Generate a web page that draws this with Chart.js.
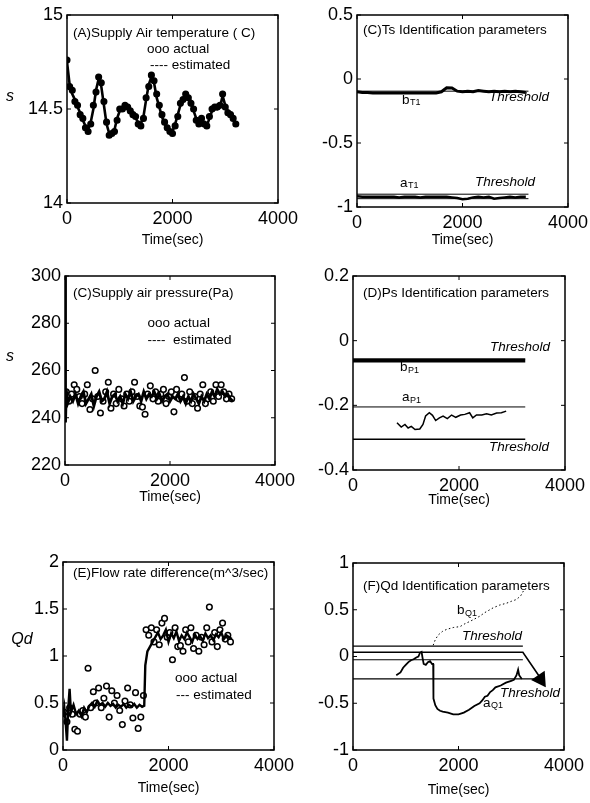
<!DOCTYPE html>
<html>
<head>
<meta charset="utf-8">
<title>Supply air identification</title>
<script src="https://cdn.jsdelivr.net/npm/chart.js"></script>
<style>
  html, body { margin: 0; padding: 0; background: #fff; }
  body { width: 590px; height: 803px; position: relative; overflow: hidden; }
  canvas { position: absolute; }
</style>
</head>
<body>
<canvas id="chartA"></canvas>
<canvas id="chartTs"></canvas>
<canvas id="chartP"></canvas>
<canvas id="chartD"></canvas>
<canvas id="chartE"></canvas>
<canvas id="chartF"></canvas>
<script>
// ---- ticks ----
const xTicks = [0, 2000, 4000];
const yTicksA = [14, 14.5, 15];
const yTicksTs = [-1, -0.5, 0, 0.5];
const yTicksP = [220, 240, 260, 280, 300];
const yTicksD = [-0.4, -0.2, 0, 0.2];
const yTicksE = [0, 0.5, 1, 1.5, 2];
const yTicksF = [-1, -0.5, 0, 0.5, 1];

// ---- (A) supply air temperature ----
const tA = [0, 50, 100, 150, 200, 250, 300, 350, 400, 450, 500, 550, 600, 650, 700, 750, 800, 850, 900, 950,
  1000, 1050, 1100, 1150, 1200, 1250, 1300, 1350, 1400, 1450, 1500, 1550, 1600, 1650, 1700, 1750, 1800, 1850, 1900, 1950,
  2000, 2050, 2100, 2150, 2200, 2250, 2300, 2350, 2400, 2450, 2500, 2550, 2600, 2650, 2700, 2750, 2800, 2850, 2900, 2950,
  3000, 3050, 3100, 3150, 3200];
const estA = [14.75, 14.63, 14.58, 14.55, 14.51, 14.48, 14.44, 14.41, 14.39, 14.43, 14.50, 14.60, 14.66, 14.62, 14.52, 14.42, 14.37, 14.37, 14.39, 14.45,
  14.49, 14.51, 14.50, 14.51, 14.50, 14.48, 14.45, 14.43, 14.42, 14.46, 14.55, 14.63, 14.67, 14.64, 14.56, 14.51, 14.46, 14.42, 14.40, 14.39,
  14.38, 14.42, 14.47, 14.52, 14.55, 14.57, 14.57, 14.54, 14.49, 14.45, 14.43, 14.44, 14.43, 14.41, 14.45, 14.49, 14.50, 14.50, 14.51, 14.57,
  14.52, 14.49, 14.47, 14.46, 14.42];
const actA = [14.76, 14.62, 14.60, 14.54, 14.52, 14.47, 14.45, 14.40, 14.38, 14.42, 14.52, 14.59, 14.67, 14.64, 14.54, 14.43, 14.36, 14.37, 14.38, 14.44,
  14.50, 14.50, 14.52, 14.51, 14.49, 14.47, 14.46, 14.42, 14.41, 14.45, 14.56, 14.62, 14.68, 14.65, 14.58, 14.52, 14.47, 14.43, 14.40, 14.38,
  14.37, 14.41, 14.46, 14.53, 14.55, 14.58, 14.56, 14.53, 14.50, 14.44, 14.42, 14.45, 14.42, 14.41, 14.46, 14.50, 14.51, 14.51, 14.52, 14.58,
  14.51, 14.48, 14.47, 14.45, 14.42];

// ---- (C) Ts identification parameters ----
const tTs = [0, 100, 200, 300, 400, 500, 600, 700, 800, 900, 1000, 1100, 1200, 1300, 1400, 1500, 1600, 1700, 1800, 1900,
  2000, 2100, 2200, 2300, 2400, 2500, 2600, 2700, 2800, 2900, 3000, 3100, 3200];
const bT1 = [-0.10, -0.105, -0.105, -0.11, -0.11, -0.11, -0.11, -0.11, -0.11, -0.11, -0.11, -0.11, -0.11, -0.11, -0.11, -0.11, -0.10, -0.068, -0.07, -0.095,
  -0.10, -0.095, -0.10, -0.09, -0.095, -0.10, -0.095, -0.10, -0.095, -0.10, -0.095, -0.10, -0.105];
const aT1 = [-0.915, -0.92, -0.92, -0.92, -0.92, -0.92, -0.92, -0.92, -0.925, -0.92, -0.92, -0.92, -0.925, -0.92, -0.92, -0.92, -0.92, -0.92, -0.925, -0.93,
  -0.94, -0.935, -0.925, -0.92, -0.925, -0.92, -0.935, -0.93, -0.925, -0.92, -0.925, -0.92, -0.92];
const tThr = [0, 3250];
const thrTb = [-0.095, -0.095];
const thrTaUp = [-0.90, -0.90];
const thrTaLow = [-0.935, -0.935];

// ---- (C) supply air pressure ----
const tP = [0, 10, 25, 50, 100, 150, 200, 250, 300, 350, 400, 450, 500, 550, 600, 650, 700, 750, 800, 850, 900, 950,
  1000, 1050, 1100, 1150, 1200, 1250, 1300, 1350, 1400, 1450, 1500, 1550, 1600, 1650, 1700, 1750, 1800, 1850, 1900, 1950,
  2000, 2050, 2100, 2150, 2200, 2250, 2300, 2350, 2400, 2450, 2500, 2550, 2600, 2650, 2700, 2750, 2800, 2850, 2900, 2950,
  3000, 3050, 3100, 3150, 3200];
const estP = [300, 238, 252, 246, 249, 247, 250, 246, 249, 251, 246, 248, 250, 245, 249, 251, 247, 248, 251, 246, 249, 250,
  247, 249, 246, 250, 248, 251, 247, 249, 250, 247, 251, 248, 250, 249, 251, 248, 250, 247, 249, 250,
  247, 249, 248, 250, 247, 249, 246, 249, 247, 250, 248, 246, 249, 247, 250, 248, 251, 249, 252, 250,
  251, 249, 250, 248, 247];
const tPa = [25, 75, 125, 175, 225, 275, 325, 375, 425, 475, 525, 575, 625, 675, 725, 775, 825, 875, 925, 975,
  1025, 1075, 1125, 1175, 1225, 1275, 1325, 1375, 1425, 1475, 1525, 1575, 1625, 1675, 1725, 1775, 1825, 1875, 1925, 1975,
  2025, 2075, 2125, 2175, 2225, 2275, 2325, 2375, 2425, 2475, 2525, 2575, 2625, 2675, 2725, 2775, 2825, 2875, 2925, 2975,
  3025, 3075, 3125, 3175];
const actP = [251, 247, 250, 254, 252, 249, 246, 250, 254, 243.5, 248, 260, 249, 242, 247, 251, 255, 244, 250, 246,
  252, 248, 245, 250, 247, 251, 255, 249, 245, 244.5, 241.5, 250, 253.5, 248, 251, 247, 250, 252, 246, 249,
  251, 242.5, 252, 248, 250, 257, 247, 251, 246, 249, 244, 250, 254, 246, 248, 251, 247, 254, 249, 254,
  251, 248, 250, 248];

// ---- (D) Ps identification parameters ----
const thrDUp = [-0.056, -0.056];
const bP1 = [-0.062, -0.062];
const thrDMid = [-0.205, -0.205];
const thrDLow = [-0.305, -0.305];
const tDa = [830, 910, 980, 1040, 1100, 1170, 1260, 1320, 1370, 1440, 1500, 1560, 1630, 1700, 1780, 1860, 1940, 2030,
  2110, 2200, 2260, 2330, 2430, 2520, 2610, 2710, 2800, 2890];
const aP1 = [-0.254, -0.267, -0.259, -0.27, -0.265, -0.275, -0.273, -0.259, -0.233, -0.223, -0.231, -0.247, -0.239, -0.233,
  -0.241, -0.23, -0.237, -0.23, -0.228, -0.223, -0.239, -0.23, -0.23, -0.226, -0.23, -0.224, -0.223, -0.218];

// ---- (E) flow rate difference ----
const tQ = [0, 25, 50, 75, 100, 125, 150, 200, 250, 300, 350, 400, 450, 500, 550, 600, 650, 700, 750, 800, 850, 900, 950,
  1000, 1050, 1100, 1150, 1200, 1250, 1300, 1350, 1400, 1450, 1500, 1540, 1560, 1600, 1650, 1700, 1750, 1800, 1850, 1900, 1950,
  2000, 2050, 2100, 2150, 2200, 2250, 2300, 2350, 2400, 2450, 2500, 2550, 2600, 2650, 2700, 2750, 2800, 2850, 2900, 2950,
  3000, 3050, 3100, 3150, 3200];
const estQ = [0.35, 0.45, 0.3, 0.1, 0.45, 0.65, 0.4, 0.48, 0.38, 0.42, 0.36, 0.45, 0.4, 0.47, 0.5, 0.46, 0.52, 0.48, 0.5, 0.46, 0.5, 0.47, 0.49,
  0.45, 0.48, 0.46, 0.49, 0.45, 0.48, 0.46, 0.49, 0.45, 0.48, 0.46, 0.47, 0.9, 1.05, 1.1, 1.15, 1.2, 1.25, 1.18, 1.22, 1.28,
  1.15, 1.24, 1.19, 1.26, 1.16, 1.22, 1.18, 1.25, 1.2, 1.15, 1.23, 1.18, 1.21, 1.16, 1.24, 1.19, 1.22, 1.17, 1.23, 1.2,
  1.25, 1.18, 1.22, 1.2, 1.18];
const tQa = tPa;
const actQ = [0.4, 0.3, 0.45, 0.38, 0.22, 0.2, 0.38, 0.42, 0.35, 0.87, 0.45, 0.62, 0.5, 0.66, 0.45, 0.55, 0.68, 0.35, 0.63, 0.5,
  0.58, 0.42, 0.27, 0.52, 0.66, 0.48, 0.34, 0.61, 0.23, 0.35, 0.58, 1.28, 1.22, 1.3, 1.15, 1.28, 1.12, 1.35, 1.4, 1.2,
  1.25, 0.96, 1.3, 1.1, 1.11, 1.05, 1.28, 1.15, 1.3, 1.08, 1.22, 1.05, 1.2, 1.12, 1.3, 1.52, 1.15, 1.25, 1.1, 1.28,
  1.35, 1.18, 1.22, 1.15];

// ---- (F) Qd identification parameters ----
const tF1 = [0, 3220];
const thrF1 = [0.11, 0.11];
const tF2 = [0, 3220, 3540];
const lineF2 = [0.045, 0.045, -0.22];
const lineF3 = [-0.035, -0.035];
const tF4 = [0, 3560];
const thrF4 = [-0.24, -0.24];
const tArrow = [3555];
const arrowF = [-0.245];
const tFa = [820, 900, 950, 1000, 1050, 1100, 1150, 1200, 1240, 1270, 1300, 1320, 1340, 1380, 1420, 1460, 1500, 1520, 1525,
  1560, 1600, 1650, 1700, 1800, 1900, 2000, 2100, 2200, 2300, 2400, 2450, 2500, 2550, 2600, 2650, 2700, 2800, 2900,
  3000, 3050, 3100, 3130, 3150, 3200];
const aQ1 = [-0.2, -0.17, -0.12, -0.09, -0.06, -0.04, -0.03, -0.01, 0.0, 0.04, 0.05, -0.02, -0.08, -0.09, -0.06, -0.05, -0.08, -0.08, -0.45,
  -0.52, -0.56, -0.58, -0.59, -0.6, -0.62, -0.62, -0.6, -0.57, -0.53, -0.5, -0.47, -0.43, -0.42, -0.38, -0.36, -0.33, -0.31, -0.28,
  -0.26, -0.25, -0.2, -0.14, -0.2, -0.24];
const tFb = [1520, 1560, 1615, 1700, 1775, 1900, 2030, 2120, 2215, 2300, 2400, 2500, 2655, 2780, 2910, 3000, 3100, 3180, 3230];
const bQ1 = [0.12, 0.18, 0.23, 0.27, 0.29, 0.31, 0.32, 0.35, 0.375, 0.4, 0.43, 0.47, 0.52, 0.55, 0.57, 0.59, 0.61, 0.65, 0.7];

// ---- drawing ----
const FONT = '"Liberation Sans", Arial, sans-serif';
const AXIS_W = 64;   // y axis strip
const AXIS_H = 50;   // x axis strip
const PAD_T = 15, PAD_R = 26, PAD_B = 7;

function pts(xs, ys) { return xs.map((x, i) => ({ x: x, y: ys[i] })); }

function line(xs, ys, w, dash) {
  return { data: pts(xs, ys), showLine: true, borderColor: '#000', borderWidth: w,
    borderDash: dash || [], pointRadius: 0, fill: false, tension: 0 };
}

function dots(xs, ys, r, fill) {
  return { data: pts(xs, ys), showLine: false, pointRadius: r, pointBackgroundColor: fill,
    pointBorderColor: '#000', pointBorderWidth: 1.5 };
}

// texts, box and inward tick marks
function deco(notes, yLabel) {
  return {
    id: 'deco',
    afterDatasetsDraw(chart) {
      const { ctx, chartArea: a } = chart;
      const xs = chart.scales.x, ys = chart.scales.y;
      ctx.save();
      ctx.fillStyle = '#000';
      ctx.textBaseline = 'middle';
      ctx.textAlign = 'left';
      notes.forEach(n => {
        const px = xs.getPixelForValue(n.x), py = ys.getPixelForValue(n.y);
        ctx.font = (n.italic ? 'italic ' : '') + '13.5px ' + FONT;
        ctx.fillText(n.text, px, py);
        if (n.sub) {
          const w = ctx.measureText(n.text).width;
          ctx.font = '9px ' + FONT;
          ctx.fillText(n.sub, px + w + 0.5, py + 3);
        }
      });
      if (yLabel) {
        ctx.font = 'italic 16px ' + FONT;
        ctx.textAlign = 'center';
        ctx.fillText(yLabel.text, a.left - yLabel.dx, (a.top + a.bottom) / 2 + yLabel.dy);
      }
      ctx.strokeStyle = '#000';
      ctx.lineWidth = 1.5;
      ctx.strokeRect(a.left, a.top, a.right - a.left, a.bottom - a.top);
      ctx.lineWidth = 1;
      ctx.beginPath();
      xs.ticks.forEach(t => {
        const p = xs.getPixelForValue(t.value);
        ctx.moveTo(p, a.bottom); ctx.lineTo(p, a.bottom - 4);
        ctx.moveTo(p, a.top); ctx.lineTo(p, a.top + 4);
      });
      ys.ticks.forEach(t => {
        const p = ys.getPixelForValue(t.value);
        ctx.moveTo(a.left, p); ctx.lineTo(a.left + 4, p);
        ctx.moveTo(a.right, p); ctx.lineTo(a.right - 4, p);
      });
      ctx.stroke();
      ctx.restore();
    }
  };
}

function makePanel(id, box, yTicks, datasets, notes, yLabel, titleGap) {
  const canvas = document.getElementById(id);
  canvas.width = box.r - box.l + AXIS_W + PAD_R;
  canvas.height = box.b - box.t + PAD_T + AXIS_H + PAD_B;
  canvas.style.left = (box.l - AXIS_W) + 'px';
  canvas.style.top = (box.t - PAD_T) + 'px';
  new Chart(canvas, {
    type: 'scatter',
    data: { datasets: datasets },
    options: {
      responsive: false,
      animation: false,
      layout: { padding: { left: 0, top: PAD_T, right: PAD_R, bottom: PAD_B } },
      plugins: { legend: { display: false }, tooltip: { enabled: false } },
      scales: {
        x: {
          type: 'linear', min: 0, max: 4000,
          afterBuildTicks: s => { s.ticks = xTicks.map(v => ({ value: v })); },
          afterFit: s => { s.height = AXIS_H; },
          grid: { display: false, drawTicks: false },
          border: { display: false },
          ticks: { color: '#000', font: { family: FONT, size: 18 }, padding: 5, maxRotation: 0, autoSkip: false,
            callback: v => String(v) },
          title: { display: true, text: 'Time(sec)', color: '#000', font: { family: FONT, size: 14 },
            padding: { top: 0, bottom: AXIS_H - titleGap - 8.4 } }
        },
        y: {
          type: 'linear', min: yTicks[0], max: yTicks[yTicks.length - 1],
          afterBuildTicks: s => { s.ticks = yTicks.map(v => ({ value: v })); },
          afterFit: s => { s.width = AXIS_W; },
          grid: { display: false, drawTicks: false },
          border: { display: false },
          ticks: { color: '#000', font: { family: FONT, size: 18 }, padding: 4, autoSkip: false,
            callback: v => String(v) }
        }
      }
    },
    plugins: [deco(notes, yLabel)]
  });
}

makePanel('chartA', { l: 67, t: 15, r: 278, b: 203 }, yTicksA, [
  line(tA, estA, 2.6),
  dots(tA, actA, 2.8, '#000')
], [
  { x: 114, y: 14.904, text: '(A)Supply Air temperature ( C)' },
  { x: 1517, y: 14.82, text: 'ooo actual' },
  { x: 1573, y: 14.734, text: '---- estimated' }
], { text: 's', dx: 57, dy: -12 }, 37);

makePanel('chartTs', { l: 357, t: 15, r: 568, b: 207 }, yTicksTs, [
  line(tThr, thrTb, 1),
  line(tTs, bT1, 3),
  line(tThr, thrTaUp, 1),
  line(tTs, aT1, 2.5),
  line(tThr, thrTaLow, 1)
], [
  { x: 114, y: 0.383, text: '(C)Ts Identification parameters' },
  { x: 853, y: -0.164, text: 'b', sub: 'T1' },
  { x: 2502, y: -0.14, text: 'Threshold', italic: true },
  { x: 815, y: -0.8125, text: 'a', sub: 'T1' },
  { x: 2237, y: -0.805, text: 'Threshold', italic: true }
], null, 33);

makePanel('chartP', { l: 65, t: 276, r: 275, b: 465 }, yTicksP, [
  line(tP, estP, 2.8),
  dots(tPa, actP, 2.8, '#fff')
], [
  { x: 152, y: 292.8, text: '(C)Supply air pressure(Pa)' },
  { x: 1573, y: 280.1, text: 'ooo actual' },
  { x: 1573, y: 272.9, text: '----  estimated' }
], { text: 's', dx: 55, dy: -13.5 }, 32);

makePanel('chartD', { l: 353, t: 276, r: 565, b: 470 }, yTicksD, [
  line(tThr, thrDUp, 1),
  line(tThr, bP1, 3.5),
  line(tThr, thrDMid, 1),
  line(tThr, thrDLow, 1.5),
  line(tDa, aP1, 1.5)
], [
  { x: 189, y: 0.147, text: '(D)Ps Identification parameters' },
  { x: 2585, y: -0.02, text: 'Threshold', italic: true },
  { x: 887, y: -0.082, text: 'b', sub: 'P1' },
  { x: 925, y: -0.175, text: 'a', sub: 'P1' },
  { x: 2566, y: -0.329, text: 'Threshold', italic: true }
], null, 30);

makePanel('chartE', { l: 63, t: 562, r: 274, b: 750 }, yTicksE, [
  line(tQ, estQ, 2.4),
  dots(tQa, actQ, 2.8, '#fff')
], [
  { x: 190, y: 1.883, text: '(E)Flow rate difference(m^3/sec)' },
  { x: 2123, y: 0.766, text: 'ooo actual' },
  { x: 2142, y: 0.585, text: '--- estimated' }
], { text: 'Qd', dx: 41, dy: -16 }, 38);

const arrowSet = dots(tArrow, arrowF, 8, '#000');
arrowSet.pointStyle = 'triangle';
arrowSet.rotation = 146;

makePanel('chartF', { l: 353, t: 563, r: 564, b: 750 }, yTicksF, [
  line(tF1, thrF1, 1.2),
  line(tF2, lineF2, 1.6),
  line(tF1, lineF3, 1.2),
  line(tF4, thrF4, 1.2),
  line(tFa, aQ1, 1.8),
  line(tFb, bQ1, 1, [1.5, 2.5]),
  arrowSet
], [
  { x: 190, y: 0.754, text: '(F)Qd Identification parameters' },
  { x: 1972, y: 0.497, text: 'b', sub: 'Q1' },
  { x: 2066, y: 0.219, text: 'Threshold', italic: true },
  { x: 2464, y: -0.497, text: 'a', sub: 'Q1' },
  { x: 2787, y: -0.39, text: 'Threshold', italic: true }
], null, 40);
</script>
</body>
</html>
